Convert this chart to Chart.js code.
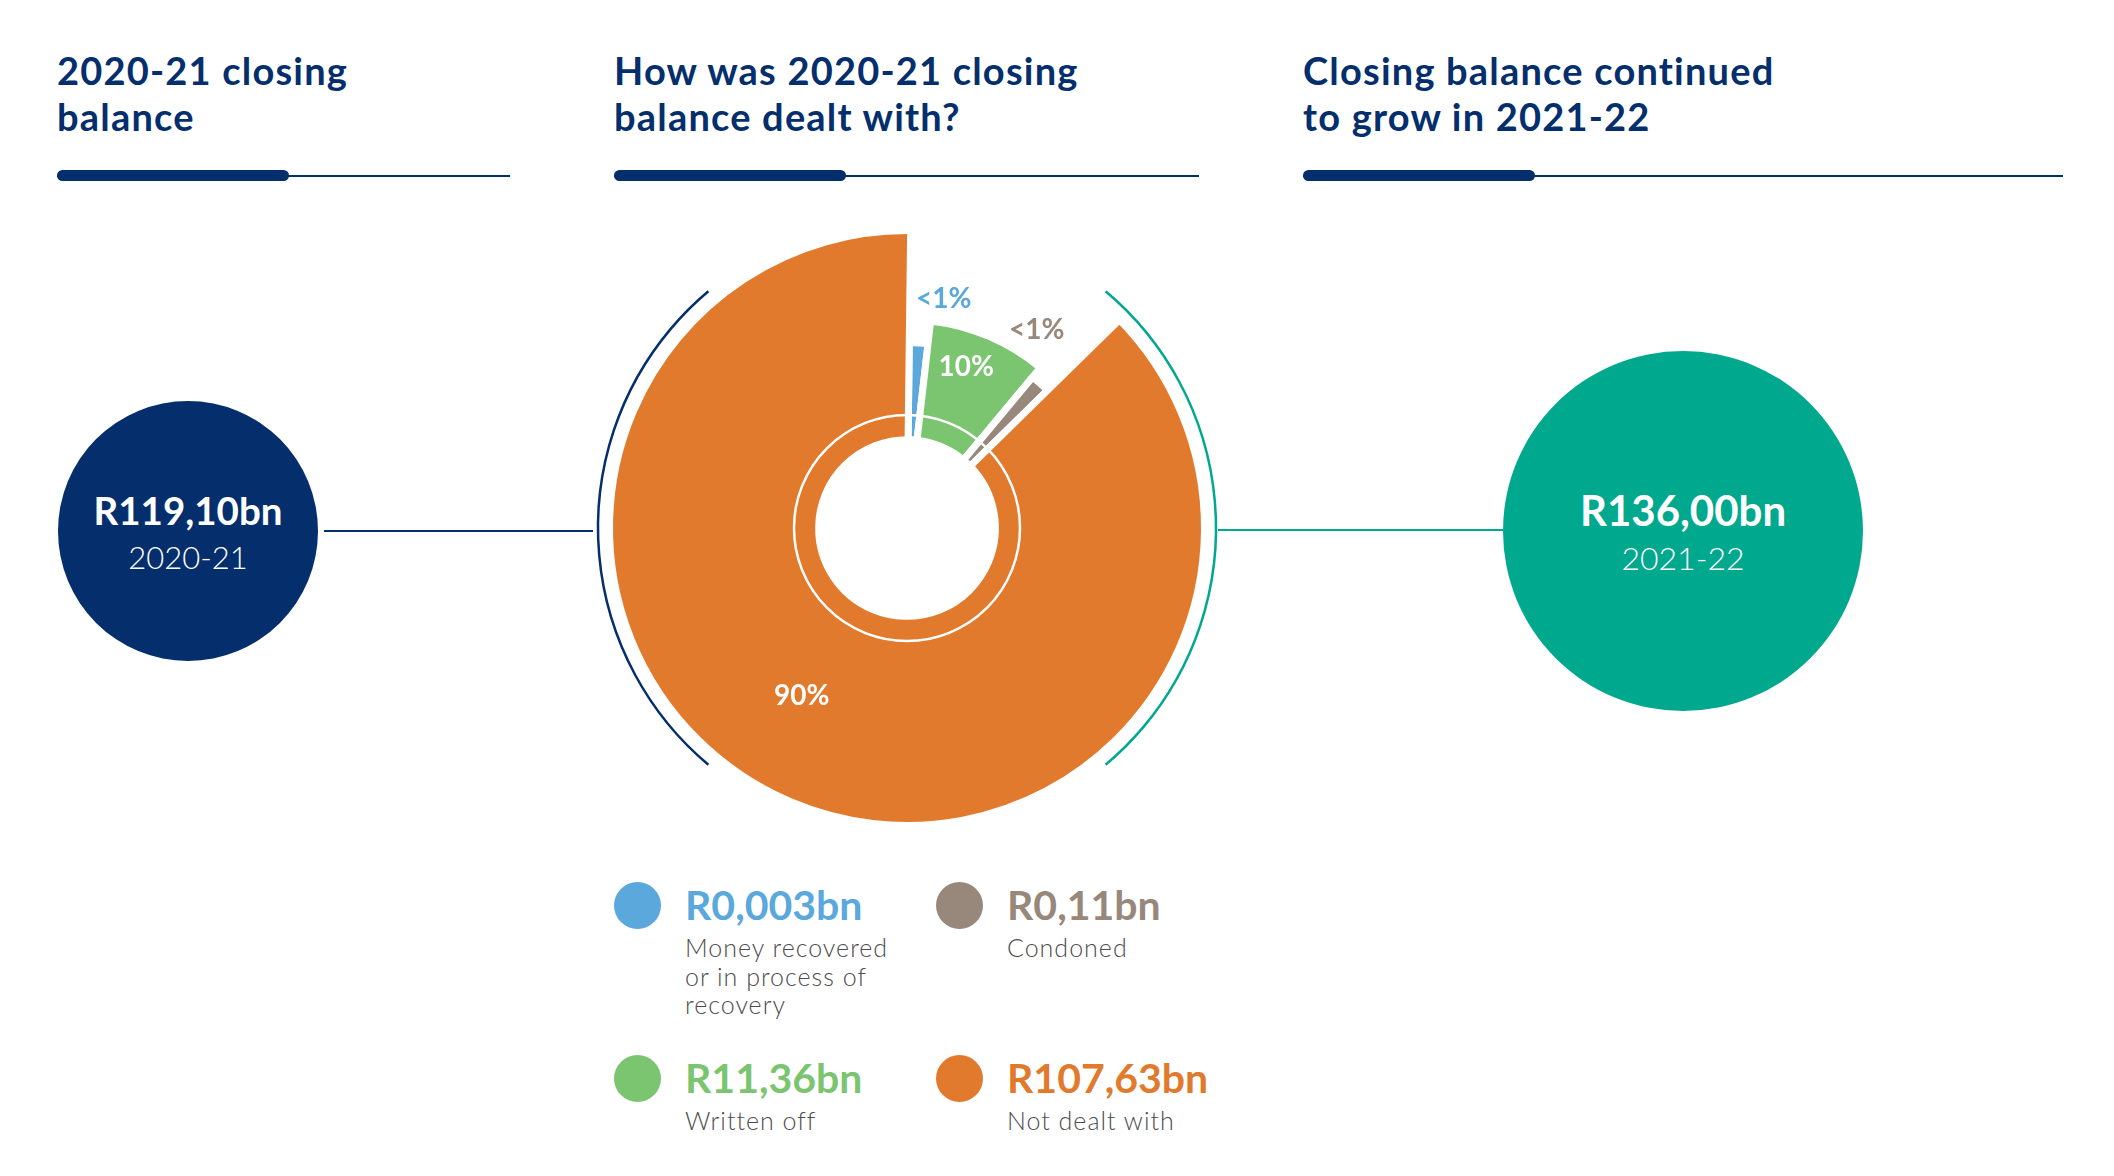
<!DOCTYPE html>
<html>
<head>
<meta charset="utf-8">
<script src="https://cdn.jsdelivr.net/npm/chart.js@4.4.1/dist/chart.umd.min.js"></script>
<style>
	body { margin: 0; background: #fff; font-family: Lato, 'Open Sans', sans-serif; }
	#page { position: relative; width: 2114px; height: 1176px; overflow: hidden; }
	.heading { position: absolute; top: 47px; font-weight: 700; font-size: 38px; letter-spacing: 1.2px; line-height: 46px; color: #042f6c; white-space: nowrap; }
	.rule { position: absolute; top: 175px; height: 2px; background: #042f6c; }
	.rule-bold { position: absolute; top: 170px; height: 11px; border-radius: 6px; background: #042f6c; }
	.bubble { position: absolute; border-radius: 50%; }
	.bubble-text { position: absolute; text-align: center; color: #fff; white-space: nowrap; }
	.bubble-amount { font-weight: 700; line-height: 1.2; }
	.bubble-year { font-weight: 300; line-height: 1.2; }
	.link { position: absolute; height: 2px; }
	#donutWrap { position: absolute; left: 587px; top: 208px; width: 640px; height: 640px; }
	.legend-item { position: absolute; }
	.legend-dot { position: absolute; left: 0; top: 0; width: 47px; height: 47px; border-radius: 50%; }
	.legend-amount { position: absolute; left: 71px; top: -1px; font-size: 41px; line-height: 48px; font-weight: 700; white-space: nowrap; }
	.legend-desc { position: absolute; left: 71px; top: 51px; width: 226px; font-size: 25px; letter-spacing: 1px; line-height: 28.5px; font-weight: 300; color: #4d4d4d; }
</style>
</head>
<body>
<div id="page">
	<div class="heading" style="left:57px">2020-21 closing<br>balance</div>
	<div class="heading" style="left:614px">How was 2020-21 closing<br>balance dealt with?</div>
	<div class="heading" style="left:1303px">Closing balance continued<br>to grow in 2021-22</div>

	<div class="rule" style="left:57px; width:453px"></div>
	<div class="rule-bold" style="left:57px; width:232px"></div>
	<div class="rule" style="left:614px; width:585px"></div>
	<div class="rule-bold" style="left:614px; width:232px"></div>
	<div class="rule" style="left:1303px; width:760px"></div>
	<div class="rule-bold" style="left:1303px; width:232px"></div>

	<div class="link" style="left:324px; top:530px; width:269px; background:#042f6c"></div>
	<div class="link" style="left:1218px; top:529px; width:290px; background:#00a88e"></div>

	<div id="bubbles"></div>

	<div id="donutWrap"><canvas id="donut"></canvas></div>

	<div id="legend"></div>
</div>

<script>
// values (R billions)
const CATEGORIES = [
	'Money recovered or in process of recovery',
	'Written off',
	'Condoned',
	'Not dealt with',
];
const AMOUNTS_BN = [0.003, 11.36, 0.11, 107.63];
const BALANCE_YEARS = ['2020-21', '2021-22'];
const CLOSING_BALANCES_BN = [119.1, 136.0];

const NAVY = '#042f6c';
const TEAL = '#00a88e';
const SLICE_COLOURS = ['#5aa8dc', '#7cc570', '#98877b', '#e17a2c'];
const SLICE_REACH = [0.464, 0.574, 0.517, 1];
const MIN_SLICE_DEG = 6;

function randFormat(value, decimals) {
	return 'R' + value.toFixed(decimals).replace('.', ',') + 'bn';
}

function amountDecimals(value) {
	return value < 0.01 ? 3 : 2;
}

function percentText(value, total) {
	const pct = (value / total) * 100;
	return pct < 1 ? '<1%' : Math.round(pct) + '%';
}

// closing balance bubbles
const BUBBLE_LAYOUT = [
	{ cx: 188, cy: 531, r: 130, colour: NAVY, amountSize: 38.5, yearSize: 31 },
	{ cx: 1683, cy: 531, r: 180, colour: TEAL, amountSize: 42, yearSize: 32 },
];

const bubbleHost = document.querySelector('#bubbles');
BALANCE_YEARS.forEach((year, i) => {
	const b = BUBBLE_LAYOUT[i];
	const circle = document.createElement('div');
	circle.className = 'bubble';
	circle.style.cssText = `left:${b.cx - b.r}px; top:${b.cy - b.r}px; width:${b.r * 2}px; height:${b.r * 2}px; background:${b.colour}`;
	bubbleHost.appendChild(circle);

	const amount = document.createElement('div');
	amount.className = 'bubble-text bubble-amount';
	amount.style.cssText = `left:${b.cx - b.r}px; width:${b.r * 2}px; top:${b.cy - 21 - b.amountSize * 0.6}px; font-size:${b.amountSize}px`;
	amount.textContent = randFormat(CLOSING_BALANCES_BN[i], 2);
	bubbleHost.appendChild(amount);

	const yr = document.createElement('div');
	yr.className = 'bubble-text bubble-year';
	yr.style.cssText = `left:${b.cx - b.r}px; width:${b.r * 2}px; top:${b.cy + 27 - b.yearSize * 0.6}px; font-size:${b.yearSize}px`;
	yr.textContent = year;
	bubbleHost.appendChild(yr);
});

// legend, two columns
const LEGEND_SLOTS = [
	{ x: 614, y: 882 },
	{ x: 614, y: 1055 },
	{ x: 936, y: 882 },
	{ x: 936, y: 1055 },
];

const legendHost = document.querySelector('#legend');
CATEGORIES.forEach((name, i) => {
	const slot = LEGEND_SLOTS[i];
	const item = document.createElement('div');
	item.className = 'legend-item';
	item.style.left = slot.x + 'px';
	item.style.top = slot.y + 'px';
	item.innerHTML =
		`<div class="legend-dot" style="background:${SLICE_COLOURS[i]}"></div>` +
		`<div class="legend-amount" style="color:${SLICE_COLOURS[i]}">${randFormat(AMOUNTS_BN[i], amountDecimals(AMOUNTS_BN[i]))}</div>` +
		`<div class="legend-desc">${name}</div>`;
	legendHost.appendChild(item);
});

// doughnut: tiny slices get a minimum angle so they stay visible
const amountTotal = AMOUNTS_BN.reduce((a, b) => a + b, 0);
const minAmount = (amountTotal * MIN_SLICE_DEG) / 360;
const shownAmounts = AMOUNTS_BN.map(v => Math.max(v, minAmount));

const PCT_LABELS = [
	{ colour: SLICE_COLOURS[0], nudge: 5.5, r: 232 },
	{ colour: '#fff', nudge: -3, r: 172 },
	{ colour: SLICE_COLOURS[2], nudge: -9.5, r: 237 },
	{ colour: '#fff', nudge: 9, r: 198 },
];

const sliceReach = {
	id: 'sliceReach',
	beforeDatasetsDraw(chart) {
		const meta = chart.getDatasetMeta(0);
		const ctrl = meta.controller;
		meta.data.forEach((arc, i) => {
			arc.outerRadius = ctrl.innerRadius + (ctrl.outerRadius - ctrl.innerRadius) * SLICE_REACH[i];
		});
	},
};

const ringDecor = {
	id: 'ringDecor',
	afterDatasetsDraw(chart) {
		const ctx = chart.ctx;
		const arc = chart.getDatasetMeta(0).data[0];
		const { x, y } = arc;
		const deg = d => ((d - 90) * Math.PI) / 180;
		ctx.save();
		ctx.lineWidth = 2.5;
		ctx.strokeStyle = '#fff';
		ctx.beginPath();
		ctx.arc(x, y, 113, 0, Math.PI * 2);
		ctx.stroke();

		ctx.strokeStyle = NAVY;
		ctx.beginPath();
		ctx.arc(x, y, 309, deg(220), deg(320));
		ctx.stroke();

		ctx.strokeStyle = TEAL;
		ctx.beginPath();
		ctx.arc(x, y, 309, deg(40), deg(140));
		ctx.stroke();
		ctx.restore();
	},
};

const pctLabels = {
	id: 'pctLabels',
	afterDatasetsDraw(chart) {
		const ctx = chart.ctx;
		const meta = chart.getDatasetMeta(0);
		ctx.save();
		ctx.font = 'bold 28px Lato, sans-serif';
		ctx.textAlign = 'center';
		ctx.textBaseline = 'middle';
		meta.data.forEach((arc, i) => {
			const lab = PCT_LABELS[i];
			const a = (arc.startAngle + arc.endAngle) / 2 + (lab.nudge * Math.PI) / 180;
			ctx.fillStyle = lab.colour;
			ctx.fillText(percentText(AMOUNTS_BN[i], CLOSING_BALANCES_BN[0]), arc.x + lab.r * Math.cos(a), arc.y + lab.r * Math.sin(a));
		});
		ctx.restore();
	},
};

const donutChart = new Chart(document.querySelector('#donut').getContext('2d'), {
	type: 'doughnut',
	data: {
		labels: CATEGORIES,
		datasets: [
			{
				data: shownAmounts,
				backgroundColor: SLICE_COLOURS,
				borderColor: '#fff',
				borderWidth: 7,
				hoverOffset: 0,
			},
		],
	},
	options: {
		animation: false,
		responsive: true,
		maintainAspectRatio: false,
		rotation: 0.7,
		radius: 297.5,
		cutout: '29.7%',
		layout: { padding: 0 },
		events: [],
		plugins: {
			legend: { display: false },
			tooltip: { enabled: false },
		},
	},
	plugins: [sliceReach, ringDecor, pctLabels],
});
</script>
</body>
</html>
